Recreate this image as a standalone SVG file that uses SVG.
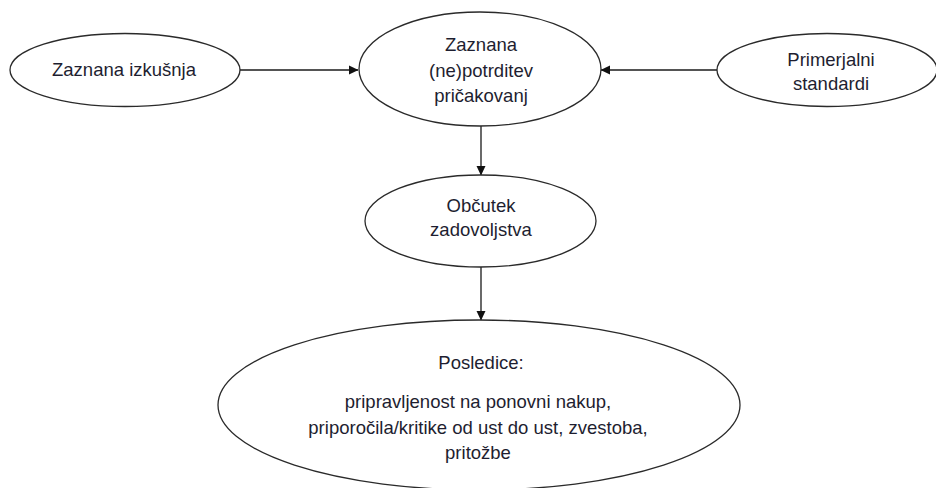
<svg xmlns="http://www.w3.org/2000/svg" width="936" height="488" viewBox="0 0 936 488">
  <style>
    .node ellipse { fill: #ffffff; stroke: #2a2a2a; stroke-width: 1.3; }
    .node text { font-family: "Liberation Sans", Arial, sans-serif; font-size: 18.5px; fill: #1e1e30; text-anchor: middle; dominant-baseline: central; }
    .conn line { stroke: #1a1a1a; stroke-width: 1.3; }
  </style>
  <defs>
    <marker id="arrow" markerWidth="10" markerHeight="10" refX="9" refY="5" orient="auto" markerUnits="userSpaceOnUse">
      <path d="M0,0.5 L9.5,5 L0,9.5 Z" fill="#111"/>
    </marker>
  </defs>
  <rect width="936" height="488" fill="#ffffff"/>

  <g id="connectors" class="conn">
    <line x1="240" y1="70" x2="358" y2="70" marker-end="url(#arrow)"/>
    <line x1="717" y1="70" x2="601" y2="70" marker-end="url(#arrow)"/>
    <line x1="481" y1="126" x2="481" y2="175" marker-end="url(#arrow)"/>
    <line x1="481" y1="267" x2="481" y2="320" marker-end="url(#arrow)"/>
  </g>

  <g id="n-izkusnja" class="node">
    <ellipse cx="125" cy="70" rx="115" ry="36.5"/>
    <text x="124" y="69">Zaznana izkušnja</text>
  </g>

  <g id="n-potrditev" class="node">
    <ellipse cx="480" cy="69" rx="121" ry="57"/>
    <text x="481" y="44">Zaznana</text>
    <text x="481" y="70">(ne)potrditev</text>
    <text x="481" y="95">pričakovanj</text>
  </g>

  <g id="n-standardi" class="node">
    <ellipse cx="827" cy="70" rx="110" ry="36.5"/>
    <text x="831" y="59">Primerjalni</text>
    <text x="831" y="83">standardi</text>
  </g>

  <g id="n-zadovoljstvo" class="node">
    <ellipse cx="480.5" cy="221" rx="115.5" ry="46"/>
    <text x="481" y="205">Občutek</text>
    <text x="481" y="229">zadovoljstva</text>
  </g>

  <g id="n-posledice" class="node">
    <ellipse cx="479" cy="405" rx="261" ry="85"/>
    <text x="481" y="362">Posledice:</text>
    <text x="478" y="401">pripravljenost na ponovni nakup,</text>
    <text x="478" y="427">priporočila/kritike od ust do ust, zvestoba,</text>
    <text x="478" y="452">pritožbe</text>
  </g>
</svg>
